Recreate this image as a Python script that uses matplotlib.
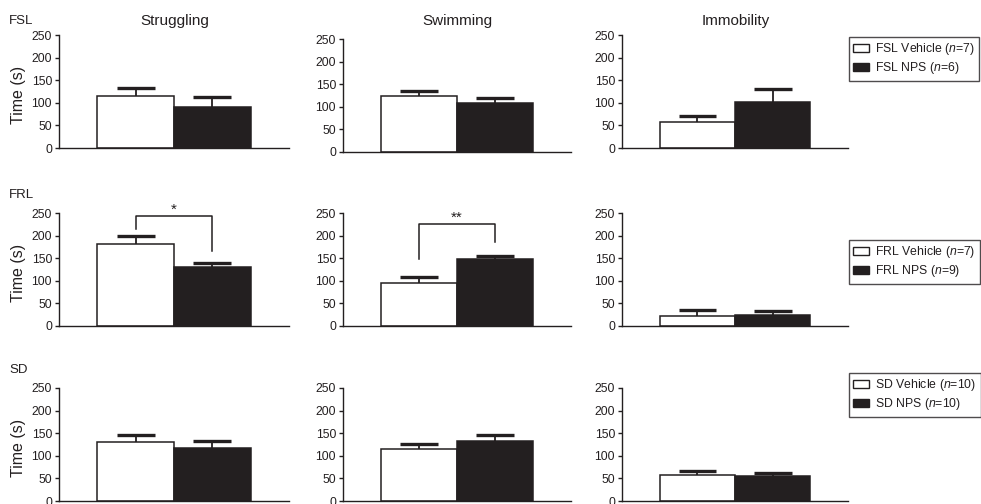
import numpy as np
import matplotlib.pyplot as plt
from matplotlib.patches import Patch

plt.rcParams['font.family'] = ['Liberation Sans', 'DejaVu Sans']
plt.rcParams['mathtext.fontset'] = 'custom'
plt.rcParams['mathtext.rm'] = 'Liberation Sans'
plt.rcParams['mathtext.it'] = 'Liberation Sans:italic'

INK = '#231f20'

groups = ['FSL', 'FRL', 'SD']
tests = ['Struggling', 'Swimming', 'Immobility']

# mean time (s), rows = groups, cols = tests
vehicle_mean = [[114, 124, 58],
                [182, 96, 23],
                [131, 114, 57]]
vehicle_sem = [[18, 11, 12],
               [18, 13, 12],
               [15, 12, 9]]
nps_mean = [[90, 109, 102],
            [130, 148, 25],
            [117, 132, 56]]
nps_sem = [[22, 11, 28],
           [10, 7, 9],
           [15, 14, 7]]
n_vehicle = [7, 7, 10]
n_nps = [6, 9, 10]

# significance brackets: (row, col, top, left leg end, right leg end, label)
brackets = [(1, 0, 244, 215, 167, '*'),
            (1, 1, 226, 149, 185, '**')]

yticks = [0, 50, 100, 150, 200, 250]

W, H = 981, 504
fig = plt.figure(figsize=(W / 100, H / 100), dpi=100)


def px_axes(x0, y0, w, h):
    # axes from pixel box (top-left origin)
    return fig.add_axes([x0 / W, 1 - (y0 + h) / H, w / W, h / H])


col_left = [59, 343, 622]
col_w = [230, 228, 226]
row_top = [35, 213, 388]
ax_h = 113

axes = {}
for r in range(3):
    for c in range(3):
        top = row_top[r] + (4 if (r == 0 and c == 1) else 0)
        ax = px_axes(col_left[c], top, col_w[c], ax_h)
        axes[(r, c)] = ax
        x = np.array([0, 1])
        means = [vehicle_mean[r][c], nps_mean[r][c]]
        sems = [vehicle_sem[r][c], nps_sem[r][c]]
        # error bars (upper only)
        ax.vlines(x, means, np.add(means, sems), color=INK, lw=1.3, zorder=1)
        ax.hlines(np.add(means, sems), x - 0.25, x + 0.25, color=INK, lw=2.4, zorder=1)
        ax.bar(x, means, width=1.0, color=['white', INK], edgecolor=INK,
               linewidth=1.1, zorder=2)
        ax.set_xlim(-1, 2)
        ax.set_ylim(0, 250)
        ax.set_yticks(yticks)
        ax.set_xticks([])
        for s in ['top', 'right']:
            ax.spines[s].set_visible(False)
        for s in ['left', 'bottom']:
            ax.spines[s].set_linewidth(1.0)
            ax.spines[s].set_color(INK)
        ax.tick_params(axis='y', length=3, width=1.0, colors=INK,
                       labelsize=8.8, pad=2)
        ax.patch.set_alpha(0)

for r, c, top, l_end, r_end, lab in brackets:
    ax = axes[(r, c)]
    ax.plot([0, 0, 1, 1], [l_end, top, top, r_end], color=INK, lw=1.1,
            clip_on=False)
    ax.text(0.5, top - 2, lab, ha='center', va='bottom', fontsize=11,
            color=INK)

# column titles
title_x = [175, 457, 736]
for c, t in enumerate(tests):
    fig.text(title_x[c] / W, 1 - 25 / H, t, ha='center', va='baseline',
             fontsize=11, color=INK)

# row labels and y labels
row_base = [24, 198, 373]
for r, g in enumerate(groups):
    fig.text(9 / W, 1 - row_base[r] / H, g, ha='left', va='baseline',
             fontsize=9.5, color=INK)
    ymid = row_top[r] + ax_h / 2 + 3
    fig.text(18 / W, 1 - ymid / H, 'Time (s)', rotation=90, ha='center',
             va='center', fontsize=11.5, color=INK)

# legends
leg_top = [37, 240, 373]
for r, g in enumerate(groups):
    handles = [Patch(facecolor='white', edgecolor=INK, linewidth=1.0),
               Patch(facecolor=INK, edgecolor=INK, linewidth=1.0)]
    labels = ['%s Vehicle ($n$=%d)' % (g, n_vehicle[r]),
              '%s NPS ($n$=%d)' % (g, n_nps[r])]
    leg = fig.legend(handles, labels, loc='upper left',
                     bbox_to_anchor=(849 / W, 1 - leg_top[r] / H),
                     borderaxespad=0, fontsize=8.8, frameon=True,
                     fancybox=False, handlelength=1.3, handleheight=0.55,
                     handletextpad=0.5, labelspacing=0.25, borderpad=0.35)
    leg.get_frame().set_edgecolor(INK)
    leg.get_frame().set_linewidth(1.0)
    for t in leg.get_texts():
        t.set_color(INK)

fig.savefig('out.png', dpi=100)
